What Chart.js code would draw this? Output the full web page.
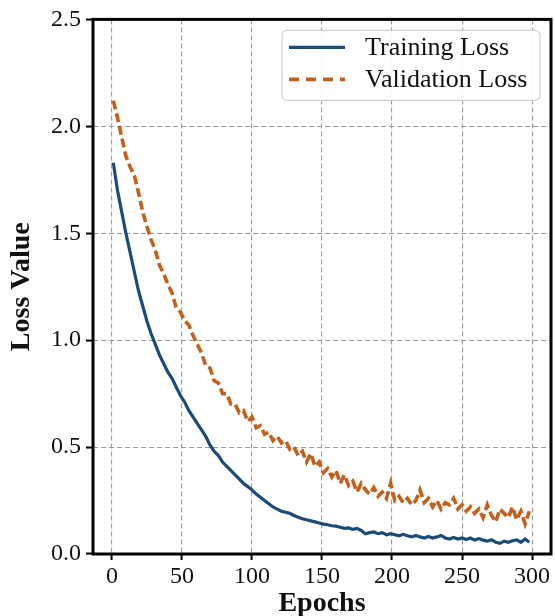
<!DOCTYPE html>
<html>
<head>
<meta charset="utf-8">
<script src="https://cdn.jsdelivr.net/npm/chart.js@4.4.1/dist/chart.umd.min.js"></script>
<style>
  html, body { margin: 0; padding: 0; background: #ffffff; }
  #wrap { width: 555px; height: 616px; }
</style>
</head>
<body>
<div id="wrap"><canvas id="lossChart" width="555" height="616"></canvas></div>
<script>
// epochs sampled every 3 epochs (1, 4, 7 ... 298)
const epochs = [];
for (let e = 1; e <= 298; e += 3) {
  epochs.push(e);
}

const trainingLoss = [
  1.83, 1.70, 1.60, 1.50, 1.41, 1.32, 1.23, 1.16, 1.09, 1.03,
  0.98, 0.93, 0.89, 0.85, 0.82, 0.78, 0.74, 0.71, 0.67, 0.64,
  0.61, 0.58, 0.55, 0.51, 0.48, 0.46, 0.43, 0.41, 0.39, 0.37,
  0.35, 0.33, 0.315, 0.30, 0.28, 0.265, 0.25, 0.235, 0.22, 0.21,
  0.20, 0.195, 0.19, 0.18, 0.172, 0.165, 0.16, 0.155, 0.15, 0.145,
  0.14, 0.137, 0.132, 0.13, 0.125, 0.12, 0.122, 0.115, 0.12, 0.11,
  0.095, 0.10, 0.103, 0.095, 0.10, 0.09, 0.095, 0.09, 0.085, 0.092,
  0.085, 0.08, 0.087, 0.08, 0.075, 0.082, 0.075, 0.08, 0.087, 0.075,
  0.07, 0.077, 0.07, 0.075, 0.068, 0.075, 0.065, 0.072, 0.065, 0.06,
  0.067, 0.055, 0.05, 0.06, 0.055, 0.062, 0.066, 0.055, 0.07, 0.055
];
const validationLoss = [
  2.12, 2.04, 1.95, 1.86, 1.81, 1.77, 1.69, 1.60, 1.53, 1.47,
  1.42, 1.35, 1.31, 1.26, 1.22, 1.15, 1.13, 1.09, 1.07, 1.02,
  0.98, 0.94, 0.88, 0.87, 0.81, 0.80, 0.75, 0.75, 0.70, 0.70,
  0.66, 0.67, 0.62, 0.64, 0.59, 0.60, 0.56, 0.57, 0.53, 0.55,
  0.52, 0.53, 0.49, 0.50, 0.46, 0.48, 0.43, 0.47, 0.41, 0.43,
  0.38, 0.40, 0.36, 0.39, 0.33, 0.37, 0.32, 0.34, 0.29, 0.33,
  0.30, 0.28, 0.31, 0.27, 0.29, 0.26, 0.33, 0.25, 0.27, 0.24,
  0.26, 0.23, 0.25, 0.30, 0.24, 0.26, 0.22, 0.25, 0.21, 0.24,
  0.23, 0.26, 0.21, 0.23, 0.20, 0.22, 0.19, 0.21, 0.17, 0.23,
  0.18, 0.15, 0.21, 0.19, 0.17, 0.22, 0.16, 0.20, 0.14, 0.20
];

const xTicks = [0, 50, 100, 150, 200, 250, 300];
const yTicks = [0, 0.5, 1.0, 1.5, 2.0, 2.5];

const blue = "#1b4b78";
const orange = "#c2601c";
const serif = "'Liberation Serif', 'DejaVu Serif', serif";

const toPoints = (vals) => vals.map((v, i) => ({ x: epochs[i], y: v }));

const data = {
  datasets: [
    {
      label: "Training Loss",
      data: toPoints(trainingLoss),
      borderColor: blue,
      borderWidth: 3.2,
      pointRadius: 0,
      tension: 0,
    },
    {
      label: "Validation Loss",
      data: toPoints(validationLoss),
      borderColor: orange,
      borderWidth: 3.6,
      borderDash: [9, 4],
      pointRadius: 0,
      tension: 0,
    },
  ],
};

// black box round the plot
const framePlugin = {
  id: "frame",
  afterDatasetsDraw(chart) {
    const { ctx, chartArea } = chart;
    ctx.save();
    ctx.strokeStyle = "#000";
    ctx.lineWidth = 3;
    ctx.strokeRect(chartArea.left, chartArea.top, chartArea.right - chartArea.left, chartArea.bottom - chartArea.top);
    ctx.restore();
  },
};

// legend box in the upper right corner
const legendPlugin = {
  id: "boxLegend",
  afterDraw(chart) {
    const { ctx, chartArea } = chart;
    const bx = chartArea.right - 269;
    const by = chartArea.top + 11;
    const bw = 258;
    const bh = 70;
    ctx.save();
    ctx.beginPath();
    ctx.roundRect(bx, by, bw, bh, 5);
    ctx.fillStyle = "rgba(255,255,255,0.9)";
    ctx.fill();
    ctx.strokeStyle = "#d0d0d0";
    ctx.lineWidth = 1.2;
    ctx.stroke();

    chart.data.datasets.forEach((ds, i) => {
      const ry = by + 17 + i * 32;
      ctx.beginPath();
      ctx.strokeStyle = ds.borderColor;
      ctx.lineWidth = ds.borderWidth;
      ctx.setLineDash(ds.borderDash ? [10, 7] : []);
      ctx.moveTo(bx + 7, ry);
      ctx.lineTo(bx + 63, ry);
      ctx.stroke();
      ctx.setLineDash([]);
      ctx.fillStyle = "#111";
      ctx.font = "26px " + serif;
      ctx.textBaseline = "middle";
      ctx.fillText(ds.label, bx + 83, ry + 1);
    });
    ctx.restore();
  },
};

const gridStyle = {
  color: "#9a9a9a",
  lineWidth: 1.1,
  tickColor: "#000",
  tickWidth: 2,
  tickBorderDash: [],
};

const config = {
  type: "line",
  data: data,
  plugins: [framePlugin, legendPlugin],
  options: {
    responsive: false,
    animation: false,
    layout: {
      padding: { top: 18, right: 4, left: 0, bottom: 0 },
    },
    plugins: {
      legend: { display: false },
      tooltip: { enabled: false },
    },
    scales: {
      x: {
        type: "linear",
        min: -13.5,
        max: 313.5,
        afterBuildTicks: (scale) => {
          scale.ticks = xTicks.map((v) => ({ value: v }));
        },
        afterFit: (scale) => {
          scale.height = 62;
        },
        grid: Object.assign({ tickLength: 6 }, gridStyle),
        border: { display: false, dash: [5, 3] },
        ticks: {
          color: "#111",
          padding: 2,
          maxRotation: 0,
          font: { family: serif, size: 24 },
        },
        title: {
          display: true,
          text: "Epochs",
          color: "#111",
          padding: { top: 0, bottom: 0 },
          font: { family: serif, size: 28, weight: "bold", lineHeight: 0.85 },
        },
      },
      y: {
        type: "linear",
        min: 0,
        max: 2.5,
        afterBuildTicks: (scale) => {
          scale.ticks = yTicks.map((v) => ({ value: v }));
        },
        afterFit: (scale) => {
          scale.width = 93;
        },
        grid: Object.assign({ tickLength: 7 }, gridStyle),
        border: { display: false, dash: [5, 3] },
        ticks: {
          color: "#111",
          padding: 5,
          font: { family: serif, size: 24 },
          callback: (v) => Number(v).toFixed(1),
        },
        title: {
          display: true,
          text: "Loss Value",
          color: "#111",
          padding: { top: 8, bottom: 0 },
          font: { family: serif, size: 28, weight: "bold", lineHeight: 1 },
        },
      },
    },
  },
};

const context = document.getElementById("lossChart").getContext("2d");
const chart = new Chart(context, config);
</script>
</body>
</html>
